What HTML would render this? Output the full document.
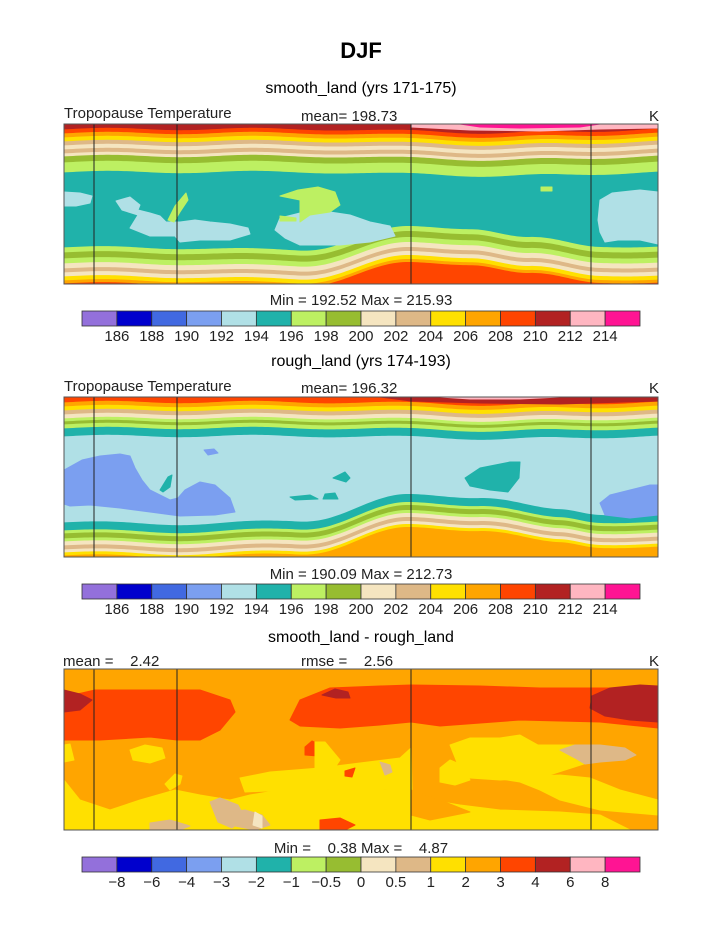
<!DOCTYPE html>
<html><head><meta charset="utf-8"><style>
html,body{margin:0;padding:0;background:#fff}
svg{display:block}
text{font-family:"Liberation Sans",sans-serif}
.lab{font-size:15px;fill:#222}
.tick{font-size:15px;fill:#222}
</style></head><body>
<svg id="s" width="723" height="935" viewBox="0 0 723 935" xmlns="http://www.w3.org/2000/svg">
<text x="361" y="58" text-anchor="middle" font-size="22" font-weight="bold">DJF</text>
<text x="361" y="93" text-anchor="middle" font-size="16">smooth_land (yrs 171-175)</text>
<text x="361" y="366" text-anchor="middle" font-size="16">rough_land (yrs 174-193)</text>
<text x="361" y="642" text-anchor="middle" font-size="16">smooth_land - rough_land</text>

<text class="lab" x="64" y="118">Tropopause Temperature</text>
<text class="lab" x="301" y="121">mean= 198.73</text>
<text class="lab" x="649" y="121">K</text>
<text class="lab" x="64" y="391">Tropopause Temperature</text>
<text class="lab" x="301" y="393">mean= 196.32</text>
<text class="lab" x="649" y="393">K</text>
<text class="lab" x="63" y="666" xml:space="preserve">mean =    2.42</text>
<text class="lab" x="301" y="666" xml:space="preserve">rmse =    2.56</text>
<text class="lab" x="649" y="666">K</text>

<text class="lab" x="361" y="305" text-anchor="middle">Min = 192.52 Max = 215.93</text>
<text class="lab" x="361" y="579" text-anchor="middle">Min = 190.09 Max = 212.73</text>
<text class="lab" x="361" y="853" text-anchor="middle" xml:space="preserve">Min =    0.38 Max =    4.87</text>
<g id="g"></g>
</svg>
<script>
const NS="http://www.w3.org/2000/svg",G=document.getElementById('g');
function el(t,a){const e=document.createElementNS(NS,t);for(const k in a)e.setAttribute(k,a[k]);G.appendChild(e);return e;}
const C=['#9370db','#0000cd','#4169e1','#7b9ff0','#b0e0e6','#20b2aa','#bdf062','#97bd31','#f5e5c0','#deb887','#ffe000','#ffa500','#ff4500','#b22222','#ffb6c1','#ff1493'];
const X0=64,X1=658;
function prof(pts){return x=>{for(let i=0;i<pts.length-1;i++){const[a,ya]=pts[i],[b,yb]=pts[i+1];if(x<=b){const t=(x-a)/(b-a);const s=(1-Math.cos(Math.PI*t))/2;return ya+(yb-ya)*s;}}return pts[pts.length-1][1];}}
function band(yb,f,col,fromTop,Y0,Y1){let d='';for(let x=X0;x<=X1;x+=3){d+=(x==X0?'M':'L')+x+' '+Math.max(Y0,Math.min(Y1,yb+f(x)+1.2*Math.sin(x/23)))+' ';}
 d+= fromTop?`L${X1} ${Y0} L${X0} ${Y0}Z`:`L${X1} ${Y1} L${X0} ${Y1}Z`;el('path',{d:d,fill:col});}
function blob(pts,col){el('path',{d:'M'+pts.map(p=>p.join(' ')).join(' L')+'Z',fill:col,'stroke':col,'stroke-width':1,'stroke-linejoin':'round'});}
function panel(Y0,bg,topB,botB,ft,fb,pre,blobs){
 el('rect',{x:X0,y:Y0,width:X1-X0,height:160,fill:bg});
 for(let i=topB.length-1;i>=0;i--)band(topB[i][0],ft,topB[i][1],true,Y0,Y0+160);
 pre.forEach(b=>blob(b[0],b[1]));
 for(let i=0;i<botB.length;i++)band(botB[i][0],fb,botB[i][1],false,Y0,Y0+160);
 blobs.forEach(b=>blob(b[0],b[1]));
 [94,177,411,591].forEach(x=>el('line',{x1:x,y1:Y0,x2:x,y2:Y0+160,stroke:'#222','stroke-width':1}));
 el('rect',{x:X0,y:Y0,width:X1-X0,height:160,fill:'none',stroke:'#555','stroke-width':1});
}
// panel 1
const ft1=prof([[64,0],[300,0],[411,2],[500,4],[560,3],[658,0]]);
const fb1=prof([[64,0],[177,1],[300,3],[411,-20],[470,-19],[530,-9],[600,-1],[658,0]]);
panel(124,C[5],
 [[129,C[13]],[133,C[12]],[137,C[11]],[141,C[10]],[145,C[9]],[149,C[8]],[153,C[9]],[156,C[8]],[162,C[7]],[172,C[6]]],
 [[247,C[6]],[252,C[7]],[258,C[6]],[263,C[8]],[268,C[9]],[272,C[8]],[276,C[10]],[280,C[11]],[283,C[12]]],
 ft1,fb1,
 [[[[411,124],[658,124],[658,128],[600,129],[540,131],[470,130],[411,127]],C[14]],
  [[[460,124],[600,124],[580,127],[520,128],[480,127]],C[15]]],
 [
 [[[64,192],[80,193],[92,196],[90,203],[76,206],[64,206]],C[4]],
 [[[116,201],[130,197],[140,205],[138,210],[150,213],[160,216],[166,222],[180,222],[195,220],[210,222],[230,224],[248,228],[250,234],[230,240],[200,240],[180,242],[175,236],[150,236],[130,228],[138,215],[122,210]],C[4]],
 [[[168,220],[175,206],[186,193],[188,200],[180,212],[174,222]],C[6]],
 [[[280,218],[300,213],[330,212],[350,215],[370,222],[390,226],[395,236],[370,242],[340,245],[300,245],[285,238],[275,230]],C[4]],
 [[[280,216],[296,218],[296,221],[280,221]],C[6]],
 [[[280,196],[298,190],[318,187],[335,192],[340,205],[330,212],[310,215],[300,222],[300,210],[300,200]],C[6]],
 [[[541,187],[552,187],[552,191],[541,191]],C[6]],
 [[[600,200],[612,193],[640,190],[658,192],[658,244],[640,240],[618,240],[605,242],[600,232],[598,220]],C[4]]
 ]);
// panel 2
const ft2=prof([[64,0],[300,0],[411,1],[500,3],[560,2],[658,0]]);
const fb2=prof([[64,0],[177,2],[300,-1],[411,-27],[480,-25],[560,-12],[600,-8],[658,-8]]);
panel(397,C[4],
 [[402,C[12]],[406,C[11]],[410,C[10]],[414,C[9]],[418,C[8]],[421,C[6]],[424,C[7]],[428,C[6]],[436,C[5]]],
 [[522,C[5]],[530,C[6]],[533,C[7]],[538,C[6]],[541,C[8]],[545,C[9]],[549,C[8]],[552,C[10]],[555,C[11]]],
 ft2,fb2,
 [[[[380,397],[658,397],[658,401],[560,404],[480,403],[411,401]],C[13]],
  [[[440,397],[560,397],[520,399],[470,399]],C[14]]],
 [
 [[[64,470],[82,460],[100,456],[120,454],[130,456],[135,468],[142,480],[150,490],[170,500],[178,498],[185,490],[200,482],[215,485],[230,498],[235,512],[215,515],[180,516],[150,512],[120,508],[90,505],[70,506],[64,504]],C[3]],
 [[[204,450],[214,449],[218,453],[208,455]],C[3]],
 [[[160,490],[168,477],[172,475],[170,487],[163,492]],C[5]],
 [[[333,478],[345,472],[350,478],[346,482]],C[5]],
 [[[290,497],[310,495],[318,499],[295,500]],C[5]],
 [[[325,494],[335,493],[338,499],[323,499]],C[5]],
 [[[465,478],[480,468],[510,462],[520,462],[519,478],[508,492],[490,490],[470,486]],C[5]],
 [[[600,503],[610,495],[630,490],[650,485],[658,485],[658,515],[630,518],[605,515]],C[3]]
 ]);
// panel 3
el('rect',{x:X0,y:669,width:X1-X0,height:161,fill:C[11]});
[
 [[[64,697],[95,690],[150,690],[200,690],[230,700],[235,712],[220,730],[200,740],[177,740],[150,737],[100,740],[64,740]],C[12]],
 [[[290,720],[300,700],[330,688],[380,686],[411,685],[480,686],[540,688],[600,688],[658,688],[658,728],[600,722],[520,720],[440,726],[411,722],[380,725],[340,728],[300,726]],C[12]],
 [[[64,690],[80,694],[92,700],[80,710],[64,712]],C[13]],
 [[[322,695],[335,689],[348,692],[350,698],[336,698]],C[13]],
 [[[592,696],[610,688],[640,685],[658,686],[658,722],[630,720],[605,716],[590,708]],C[13]],
 [[[305,747],[312,741],[322,746],[318,756],[305,755]],C[12]],
 [[[64,745],[70,744],[74,760],[64,762]],C[10]],
 [[[130,750],[145,745],[162,748],[165,758],[150,763],[133,760]],C[10]],
 [[[165,784],[175,774],[182,776],[180,784],[170,790]],C[10]],
 [[[64,780],[80,800],[110,810],[140,800],[175,790],[200,795],[230,800],[250,795],[280,790],[320,790],[360,788],[390,790],[411,790],[430,800],[460,805],[500,810],[560,812],[600,815],[630,830],[64,830]],C[10]],
 [[[240,778],[270,772],[320,768],[360,763],[400,758],[411,748],[412,790],[360,788],[290,790],[245,792]],C[10]],
 [[[315,742],[325,742],[340,760],[330,775],[315,770]],C[10]],
 [[[440,768],[450,760],[462,765],[470,780],[455,785],[440,782]],C[10]],
 [[[450,745],[470,738],[500,738],[520,735],[538,745],[580,745],[600,746],[610,756],[590,762],[540,778],[500,780],[470,778],[460,770]],C[10]],
 [[[495,778],[520,782],[540,790],[560,800],[600,810],[658,815],[658,800],[620,790],[590,778],[560,775]],C[10]],
 [[[560,750],[575,745],[600,745],[625,748],[636,755],[625,760],[600,762],[585,764],[575,758]],C[9]],
 [[[345,771],[355,768],[352,777],[345,776]],C[12]],
 [[[210,802],[220,798],[238,805],[245,818],[232,828],[218,822]],C[9]],
 [[[230,812],[245,810],[262,815],[270,825],[255,830],[235,826]],C[9]],
 [[[150,823],[170,820],[190,826],[180,830],[150,830]],C[9]],
 [[[255,812],[262,816],[262,828],[253,825]],C[8]],
 [[[320,820],[340,818],[355,825],[345,830],[320,830]],C[12]],
 [[[380,762],[390,765],[392,772],[385,775]],C[9]],
 [[[411,790],[440,800],[470,812],[430,820],[411,815]],C[11]]
].forEach(b=>blob(b[0],b[1]));
[94,177,411,591].forEach(x=>el('line',{x1:x,y1:669,x2:x,y2:830,stroke:'#222','stroke-width':1}));
el('rect',{x:X0,y:669,width:X1-X0,height:161,fill:'none',stroke:'#555','stroke-width':1});
// colorbars
const L1=['186','188','190','192','194','196','198','200','202','204','206','208','210','212','214'];
const L3=['\u22128','\u22126','\u22124','\u22123','\u22122','\u22121','\u22120.5','0','0.5','1','2','3','4','6','8'];
function cbar(y,labs){const w=(640-82)/16;for(let i=0;i<16;i++)el('rect',{x:82+i*w,y:y,width:w,height:15,fill:C[i],stroke:'#333','stroke-width':0.8});
 labs.forEach((l,i)=>{const t=el('text',{x:82+(i+1)*w,y:y+30,'text-anchor':'middle',class:'tick'});t.textContent=l;});}
cbar(311,L1);cbar(584,L1);cbar(857,L3);
</script>
</body></html>
